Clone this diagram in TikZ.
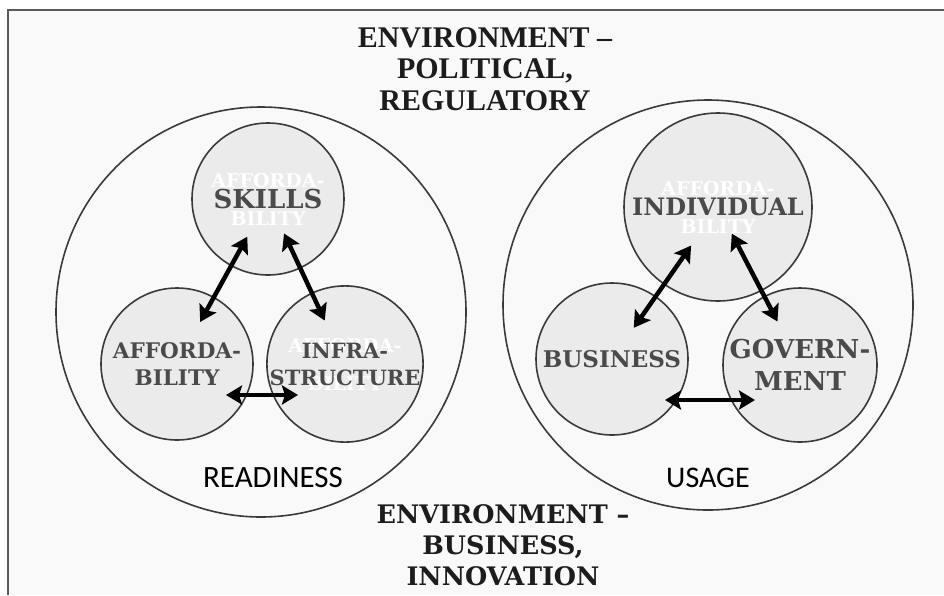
\documentclass[tikz,border=0pt]{standalone}
\usepackage{fontspec}
\newfontfamily\topfont{Liberation Serif}
\newfontfamily\circfont{DejaVu Serif}
\newfontfamily\plainfont{Carlito}
\usetikzlibrary{arrows.meta}
\usetikzlibrary{calc}
\definecolor{pagebg}{HTML}{F9F9F9}
\definecolor{framegrey}{HTML}{5A5A5A}
\definecolor{ringgrey}{HTML}{3A3A3A}
\definecolor{discgrey}{HTML}{EBEBEB}
\definecolor{labelgrey}{HTML}{4A4A4A}
\definecolor{titleblack}{HTML}{1C1C1C}

\begin{document}
\begin{tikzpicture}[x=1pt,y=-1pt,
  outer/.style={draw=ringgrey,line width=1.6pt,circle,minimum size=410pt,inner sep=0pt},
  inner/.style={draw=ringgrey,fill=discgrey,line width=1.6pt,circle,inner sep=0pt,align=center,text=labelgrey},
  ghosted/.style={path picture={\node[align=center,text=white,font=\circfont\bfseries\fontsize{19}{38}\selectfont] at (path picture bounding box.center) {AFFORDA-\\BILITY};}},
  link/.style={line width=4.5pt,{Stealth[length=16pt,width=19pt,inset=3pt]}-{Stealth[length=16pt,width=19pt,inset=3pt]}}]
\useasboundingbox (0,0) rectangle (944,595);
\fill[white] (0,0) rectangle (944,595);
\fill[pagebg] (8,10) rectangle (944,595);
\draw[framegrey,line width=1.5pt] (8,595) -- (8,10) -- (944,10);

\node[outer] (readiness) at (261,312) {};
\node[outer] (usage) at (708,305) {};

\node[inner,ghosted,minimum size=152pt,font=\circfont\bfseries\fontsize{26}{30}\selectfont] (skills) at (268,199) {SKILLS};
\node[inner,minimum size=152pt,font=\circfont\bfseries\fontsize{21.5}{27}\selectfont] (afford) at (177,364) {AFFORDA-\\BILITY};
\node[inner,ghosted,minimum size=152pt,font=\circfont\bfseries\fontsize{21}{27}\selectfont] (infra) at (345,364) {INFRA-\\STRUCTURE};

\node[inner,ghosted,minimum size=188pt,font=\circfont\bfseries\fontsize{24}{28}\selectfont] (individual) at (718,207) {INDIVIDUAL};
\node[inner,minimum size=152pt,font=\circfont\bfseries\fontsize{23}{28}\selectfont] (business) at (612,359) {BUSINESS};
\node[inner,minimum size=154pt,font=\circfont\bfseries\fontsize{26}{32}\selectfont] (government) at (800,365) {GOVERN-\\MENT};

\draw[link,shorten <=43pt,shorten >=48pt] (skills.center) to (afford.center);
\draw[link,shorten <=38pt,shorten >=48pt] (skills.center) to (infra.center);
\draw[link,shorten <=49pt,shorten >=47pt] ($(afford.center)+(0,31)$) to ($(infra.center)+(0,31)$);

\draw[link,shorten <=47pt,shorten >=38pt] (individual.center) to (business.center);
\draw[link,shorten <=30pt,shorten >=49pt] (individual.center) to (government.center);
\draw[link,shorten <=53pt,shorten >=45pt] ($(business.center)+(0,41)$) to ($(government.center)+(0,35)$);

\node[font=\plainfont\fontsize{31}{34}\selectfont] (readinesslabel) at (273,478) {READINESS};
\node[font=\plainfont\fontsize{30}{34}\selectfont] (usagelabel) at (708,478) {USAGE};

\node[align=center,text=titleblack,font=\topfont\bfseries\fontsize{30}{31.5}\selectfont] (politics) at (485,69) {ENVIRONMENT –\\POLITICAL,\\REGULATORY};
\node[align=center,text=titleblack,font=\circfont\bfseries\fontsize{25.5}{31}\selectfont] (innovation) at (503,545) {ENVIRONMENT –\\BUSINESS,\\INNOVATION};

\end{tikzpicture}
\end{document}
